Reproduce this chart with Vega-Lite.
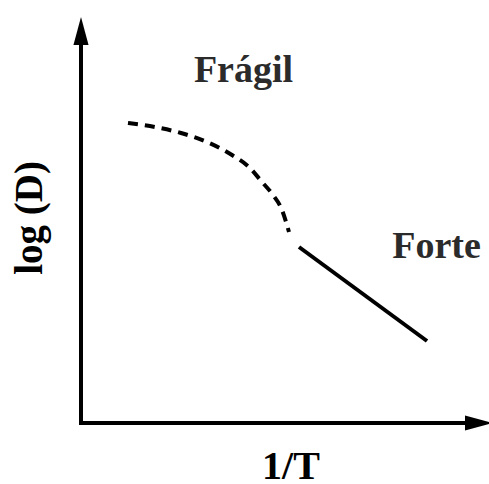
{
  "$schema": "https://vega.github.io/schema/vega-lite/v6.json",
  "width": 489,
  "height": 484,
  "autosize": {"type": "none"},
  "padding": 0,
  "background": "white",
  "view": {"stroke": null},
  "datasets": {
    "axes": [
      {"x": 0, "y": -2, "x2": 0, "y2": 380},
      {"x": -2, "y": 0, "x2": 386, "y2": 0}
    ],
    "heads": [
      {"x": 0, "y": 392, "angle": 0},
      {"x": 398, "y": 0, "angle": 90}
    ],
    "fragil": [
      {"x": 47, "y": 300},
      {"x": 79, "y": 295},
      {"x": 100, "y": 290},
      {"x": 126, "y": 281},
      {"x": 151, "y": 268},
      {"x": 169, "y": 255},
      {"x": 181, "y": 241},
      {"x": 192, "y": 228},
      {"x": 201, "y": 213},
      {"x": 208, "y": 191}
    ],
    "forte": [
      {"x": 218, "y": 176},
      {"x": 346, "y": 82}
    ],
    "labels": [
      {"x": 162.5, "y": 341, "text": "Frágil", "kind": "regime"},
      {"x": 355.5, "y": 165, "text": "Forte", "kind": "regime"}
    ],
    "xtitle": [{"x": 210, "y": -56, "text": "1/T"}],
    "ytitle": [{"x": -39, "y": 205, "text": "log (D)"}]
  },
  "encoding": {
    "x": {"field": "x", "type": "quantitative", "scale": {"domain": [-81, 408], "nice": false, "zero": false}, "axis": null},
    "y": {"field": "y", "type": "quantitative", "scale": {"domain": [-61, 423], "nice": false, "zero": false}, "axis": null}
  },
  "layer": [
    {
      "data": {"name": "axes"},
      "mark": {"type": "rule", "stroke": "black", "strokeWidth": 4},
      "encoding": {
        "x2": {"field": "x2"},
        "y2": {"field": "y2"}
      }
    },
    {
      "data": {"name": "heads"},
      "mark": {"type": "point", "shape": "M0,-1L0.54,1L-0.54,1Z", "size": 784, "filled": true, "fill": "black", "stroke": null, "opacity": 1},
      "encoding": {
        "angle": {"field": "angle", "type": "quantitative", "scale": null}
      }
    },
    {
      "data": {"name": "fragil"},
      "mark": {"type": "line", "stroke": "black", "strokeWidth": 4, "strokeDash": [10, 7], "interpolate": "monotone", "strokeCap": "butt"},
      "encoding": {}
    },
    {
      "data": {"name": "forte"},
      "mark": {"type": "line", "stroke": "black", "strokeWidth": 4},
      "encoding": {}
    },
    {
      "data": {"name": "labels"},
      "mark": {"type": "text", "font": "Liberation Serif", "fontWeight": "bold", "fontSize": 38, "fill": "#2b2b2b", "align": "center", "baseline": "alphabetic"},
      "encoding": {"text": {"field": "text"}}
    },
    {
      "data": {"name": "xtitle"},
      "mark": {"type": "text", "font": "Liberation Serif", "fontWeight": "bold", "fontSize": 40, "fill": "black", "align": "center", "baseline": "alphabetic"},
      "encoding": {"text": {"field": "text"}}
    },
    {
      "data": {"name": "ytitle"},
      "mark": {"type": "text", "font": "Liberation Serif", "fontWeight": "bold", "fontSize": 39, "fill": "black", "align": "center", "baseline": "alphabetic", "angle": 270},
      "encoding": {"text": {"field": "text"}}
    }
  ]
}
